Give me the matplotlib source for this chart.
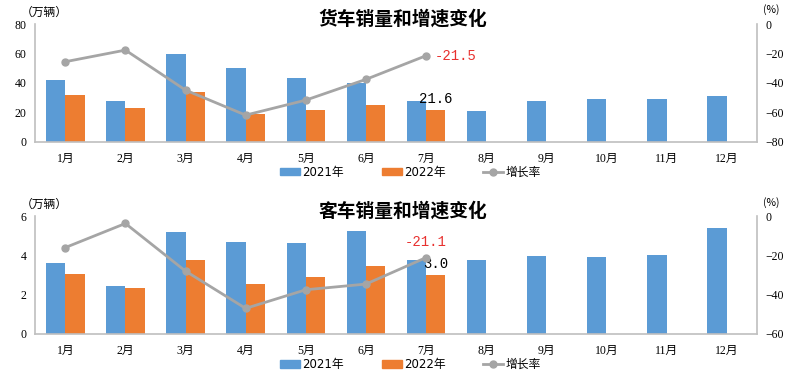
import numpy as np
import matplotlib.pyplot as plt
from matplotlib.lines import Line2D
from matplotlib.patches import Patch

plt.rcParams['font.family'] = ['Liberation Serif', 'Noto Sans CJK SC']
plt.rcParams['font.size'] = 8.5

# Data
months = ['1月', '2月', '3月', '4月', '5月', '6月', '7月', '8月', '9月', '10月', '11月', '12月']

truck_2021 = [42.3, 27.8, 59.9, 50.0, 43.4, 39.6, 27.8, 21.0, 27.8, 29.0, 29.2, 31.2]
truck_2022 = [31.7, 22.8, 33.5, 19.2, 21.3, 24.7, 21.6]
truck_growth = [-25.6, -17.7, -44.9, -61.9, -51.7, -37.6, -21.5]

bus_2021 = [3.62, 2.44, 5.20, 4.71, 4.64, 5.25, 3.78, 3.75, 3.95, 3.91, 4.00, 5.39]
bus_2022 = [3.07, 2.35, 3.76, 2.53, 2.91, 3.46, 3.0]
bus_growth = [-16.0, -3.7, -28.0, -47.0, -37.5, -34.6, -21.1]

BLUE = '#5B9BD5'
ORANGE = '#ED7D31'
GRAY = '#A5A5A5'
AXIS = '#BFBFBF'


def draw_panel(fig, rect, title, v21, v22, growth, ylim, yticks, rlim, rticks,
               last_label, growth_label, growth_offset, growth_ha):
    ax = fig.add_axes(rect)
    x = np.arange(len(months))
    w = 0.32
    ax.bar(x - w / 2, v21, width=w, color=BLUE, zorder=2)
    ax.bar(np.arange(len(v22)) + w / 2, v22, width=w, color=ORANGE, zorder=2)
    ax.set_xlim(-0.5, len(months) - 0.5)
    ax.set_ylim(*ylim)
    ax.set_yticks(yticks)
    ax.set_xticks(x)
    ax.set_xticklabels(months)
    for s in ['top', 'right']:
        ax.spines[s].set_visible(False)
    for s in ['left', 'bottom']:
        ax.spines[s].set_color(AXIS)
        ax.spines[s].set_linewidth(1.2)
    ax.tick_params(length=0, pad=6)
    ax.tick_params(axis='x', pad=8)

    # data label on the last 2022 bar
    i = len(v22) - 1
    ax.annotate(last_label, (i + w / 2, v22[i]), xytext=(0, 3),
                textcoords='offset points', ha='center', va='bottom',
                fontsize=10, family=['Liberation Mono'], zorder=5)

    ax2 = ax.twinx()
    ax2.plot(np.arange(len(growth)), growth, color=GRAY, lw=2, marker='o',
             ms=5, zorder=3)
    ax2.set_ylim(*rlim)
    ax2.set_yticks(rticks)
    for s in ['top', 'left', 'bottom']:
        ax2.spines[s].set_visible(False)
    ax2.spines['right'].set_color(AXIS)
    ax2.spines['right'].set_linewidth(1.2)
    ax2.tick_params(length=0, pad=6)
    j = len(growth) - 1
    ax2.annotate(growth_label, (j, growth[j]), xytext=growth_offset,
                 textcoords='offset points', ha=growth_ha, va='center',
                 fontsize=10, color='#E8312F', family=['Liberation Mono'])

    # unit labels and title
    ax.text(0.013, 1.10, '（万辆）', transform=ax.transAxes, ha='center', va='center',
            fontsize=8.5, family=['Noto Sans CJK SC'])
    ax.text(1.02, 1.12, '(%)', transform=ax.transAxes, ha='center', va='center',
            fontsize=7.5, family=['Noto Sans CJK SC'])
    ax.text(0.51, 1.04, title, transform=ax.transAxes, ha='center', va='center',
            fontsize=13.5, fontweight='bold', family=['Noto Sans CJK SC'])

    handles = [Patch(color=BLUE), Patch(color=ORANGE),
               Line2D([], [], color=GRAY, lw=2, marker='o', ms=5)]
    ax.legend(handles, ['2021年', '2022年', '增长率'], ncol=3, frameon=False,
              loc='center', bbox_to_anchor=(0.52, -0.26),
              columnspacing=3.2, handlelength=1.7, handleheight=0.6,
              handletextpad=0.2, borderaxespad=0,
              prop={'family': ['DejaVu Sans', 'Noto Sans CJK SC'], 'size': 8.5})
    return ax


fig = plt.figure(figsize=(8, 3.76), dpi=100)

draw_panel(fig, [0.044, 0.623, 0.902, 0.313], '货车销量和增速变化',
           truck_2021, truck_2022, truck_growth,
           (0, 80), [0, 20, 40, 60, 80], (-80, 0), [-80, -60, -40, -20, 0],
           '21.6', '-21.5', (6, 0), 'left')

draw_panel(fig, [0.044, 0.112, 0.902, 0.313], '客车销量和增速变化',
           bus_2021, bus_2022, bus_growth,
           (0, 6), [0, 2, 4, 6], (-60, 0), [-60, -40, -20, 0],
           '3.0', '-21.1', (0, 11.5), 'center')

fig.savefig('out.png', dpi=100)
